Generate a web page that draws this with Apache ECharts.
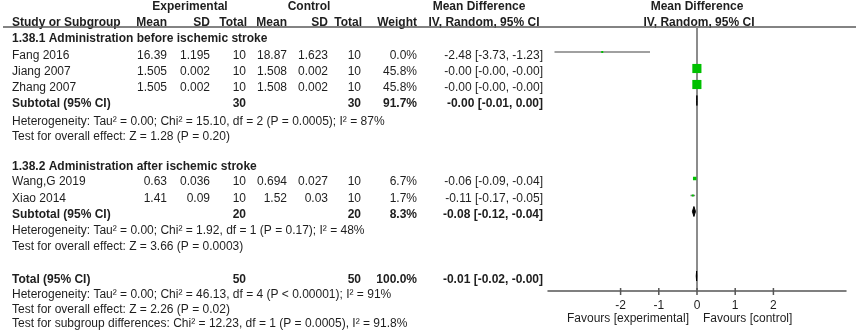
<!DOCTYPE html>
<html>
<head>
<meta charset="utf-8">
<title>Forest plot</title>
<script src="https://cdn.jsdelivr.net/npm/echarts@6/dist/echarts.min.js"></script>
<style>
  html, body { margin: 0; padding: 0; background: #fff; }
  #main { width: 858px; height: 333px; }
</style>
</head>
<body>
<div id="main"></div>
<script>
// data
var studies = ['Fang 2016', 'Jiang 2007', 'Zhang 2007', 'Wang,G 2019', 'Xiao 2014'];
var expMean = ['16.39', '1.505', '1.505', '0.63', '1.41'];
var expSD = ['1.195', '0.002', '0.002', '0.036', '0.09'];
var expN = [10, 10, 10, 10, 10];
var ctlMean = ['18.87', '1.508', '1.508', '0.694', '1.52'];
var ctlSD = ['1.623', '0.002', '0.002', '0.027', '0.03'];
var ctlN = [10, 10, 10, 10, 10];
var weight = [0.0, 45.8, 45.8, 6.7, 1.7];
var md = [-2.48, -0.003, -0.003, -0.06, -0.11];
var mdLo = [-3.73, -0.0048, -0.0048, -0.09, -0.17];
var mdHi = [-1.23, -0.0012, -0.0012, -0.04, -0.05];

var groups = ['1.38.1 Administration before ischemic stroke', '1.38.2 Administration after ischemic stroke'];
var subExpN = [30, 20];
var subCtlN = [30, 20];
var subWeight = [91.7, 8.3];
var subMd = [-0.003, -0.08];
var subLo = [-0.008, -0.12];
var subHi = [0.0015, -0.04];
var subHet = [
    'Heterogeneity: Tau\u00b2 = 0.00; Chi\u00b2 = 15.10, df = 2 (P = 0.0005); I\u00b2 = 87%',
    'Heterogeneity: Tau\u00b2 = 0.00; Chi\u00b2 = 1.92, df = 1 (P = 0.17); I\u00b2 = 48%'
];
var subTest = [
    'Test for overall effect: Z = 1.28 (P = 0.20)',
    'Test for overall effect: Z = 3.66 (P = 0.0003)'
];

var totalExpN = 50;
var totalCtlN = 50;
var totalWeight = 100.0;
var totalMd = -0.01;
var totalLo = -0.02;
var totalHi = -0.004;
var totalHet = 'Heterogeneity: Tau\u00b2 = 0.00; Chi\u00b2 = 46.13, df = 4 (P < 0.00001); I\u00b2 = 91%';
var totalTest = 'Test for overall effect: Z = 2.26 (P = 0.02)';
var subgroupTest = 'Test for subgroup differences: Chi\u00b2 = 12.23, df = 1 (P = 0.0005), I\u00b2 = 91.8%';

var tickValues = [-2, -1, 0, 1, 2];
var nullEffect = 0;
var favourLeft = 'Favours [experimental]';
var favourRight = 'Favours [control]';

// layout: text rows (pixel centres) and column anchors
var rowHdr1 = 6.5, rowHdr2 = 22.5;
var rowGroup = [38.5, 167];
var rowStudy = [55.5, 72, 88, 182, 199];
var rowSub = [104, 215];
var rowHet = [121.5, 231];
var rowTest = [137, 247];
var rowTotal = 279.5, rowTotalHet = 295, rowTotalTest = 310, rowSubDiff = 324;
var markOffset = -3.5;
var panelTop = 27, panelBottom = 291;

var colStudy = 12, colEMean = 167, colESD = 210, colEN = 246;
var colCMean = 287, colCSD = 328, colCN = 361, colW = 417, colMD = 543;

var FONT = '12px "Liberation Sans", Arial, sans-serif';
var BOLD = 'bold 12px "Liberation Sans", Arial, sans-serif';
var INK = '#1e1e1e';
var NULL_GREY = '#8c8c8c';

function f2(v) { return v.toFixed(2); }
function ci(m, lo, hi) { return f2(m) + ' [' + f2(lo) + ', ' + f2(hi) + ']'; }

function txt(s, x, y, align, bold) {
    return {
        type: 'text', x: x, y: y, silent: true,
        style: {
            text: s, fill: INK, font: bold ? BOLD : FONT,
            textAlign: align || 'left', textVerticalAlign: 'middle'
        }
    };
}

var graphics = [];
// headers
graphics.push(txt('Experimental', 190, rowHdr1, 'center', true));
graphics.push(txt('Control', 309, rowHdr1, 'center', true));
graphics.push(txt('Mean Difference', 479, rowHdr1, 'center', true));
graphics.push(txt('Mean Difference', 697, rowHdr1, 'center', true));
graphics.push(txt('Study or Subgroup', colStudy, rowHdr2, 'left', true));
graphics.push(txt('Mean', colEMean, rowHdr2, 'right', true));
graphics.push(txt('SD', colESD, rowHdr2, 'right', true));
graphics.push(txt('Total', colEN + 1, rowHdr2, 'right', true));
graphics.push(txt('Mean', colCMean, rowHdr2, 'right', true));
graphics.push(txt('SD', colCSD, rowHdr2, 'right', true));
graphics.push(txt('Total', colCN + 1, rowHdr2, 'right', true));
graphics.push(txt('Weight', colW, rowHdr2, 'right', true));
graphics.push(txt('IV, Random, 95% CI', 484, rowHdr2, 'center', true));
graphics.push(txt('IV, Random, 95% CI', 699, rowHdr2, 'center', true));
graphics.push({
    type: 'line', silent: true,
    shape: {x1: 3, y1: 27, x2: 856, y2: 27},
    style: {stroke: '#5a5a5a', lineWidth: 1.5}
});

// groups and subtotals
for (var g = 0; g < groups.length; g++) {
    graphics.push(txt(groups[g], colStudy, rowGroup[g], 'left', true));
    graphics.push(txt('Subtotal (95% CI)', colStudy, rowSub[g], 'left', true));
    graphics.push(txt(String(subExpN[g]), colEN, rowSub[g], 'right', true));
    graphics.push(txt(String(subCtlN[g]), colCN, rowSub[g], 'right', true));
    graphics.push(txt(subWeight[g].toFixed(1) + '%', colW, rowSub[g], 'right', true));
    graphics.push(txt(ci(subMd[g], subLo[g], subHi[g]), colMD, rowSub[g], 'right', true));
    graphics.push(txt(subHet[g], colStudy, rowHet[g], 'left', false));
    graphics.push(txt(subTest[g], colStudy, rowTest[g], 'left', false));
}

// studies
for (var i = 0; i < studies.length; i++) {
    var y = rowStudy[i];
    graphics.push(txt(studies[i], colStudy, y, 'left', false));
    graphics.push(txt(expMean[i], colEMean, y, 'right', false));
    graphics.push(txt(expSD[i], colESD, y, 'right', false));
    graphics.push(txt(String(expN[i]), colEN, y, 'right', false));
    graphics.push(txt(ctlMean[i], colCMean, y, 'right', false));
    graphics.push(txt(ctlSD[i], colCSD, y, 'right', false));
    graphics.push(txt(String(ctlN[i]), colCN, y, 'right', false));
    graphics.push(txt(weight[i].toFixed(1) + '%', colW, y, 'right', false));
    graphics.push(txt(ci(md[i], mdLo[i], mdHi[i]), colMD, y, 'right', false));
}

// total
graphics.push(txt('Total (95% CI)', colStudy, rowTotal, 'left', true));
graphics.push(txt(String(totalExpN), colEN, rowTotal, 'right', true));
graphics.push(txt(String(totalCtlN), colCN, rowTotal, 'right', true));
graphics.push(txt(totalWeight.toFixed(1) + '%', colW, rowTotal, 'right', true));
graphics.push(txt(ci(totalMd, totalLo, totalHi), colMD, rowTotal, 'right', true));
graphics.push(txt(totalHet, colStudy, rowTotalHet, 'left', false));
graphics.push(txt(totalTest, colStudy, rowTotalTest, 'left', false));
graphics.push(txt(subgroupTest, colStudy, rowSubDiff, 'left', false));
graphics.push(txt(favourLeft, 689, 319, 'right', false));
graphics.push(txt(favourRight, 703, 319, 'left', false));

// series data
var studyData = studies.map(function (s, i) {
    return [md[i], rowStudy[i] + markOffset, mdLo[i], mdHi[i], weight[i]];
});
var diamondData = [];
for (var k = 0; k < groups.length; k++) {
    diamondData.push([subMd[k], rowSub[k] + markOffset, subLo[k], subHi[k]]);
}
diamondData.push([totalMd, rowTotal + markOffset, totalLo, totalHi]);

var myChart = echarts.init(document.getElementById('main'));
var option = {
    animation: false,
    grid: {left: 548, right: 12, top: panelTop, bottom: 333 - panelBottom},
    xAxis: {
        type: 'value', min: -3.9, max: 3.9,
        axisLine: {onZero: false, lineStyle: {color: '#555', width: 1.5}},
        axisTick: {show: false},
        axisLabel: {customValues: tickValues, color: INK, fontSize: 12,
            fontFamily: '"Liberation Sans", Arial, sans-serif', margin: 9},
        splitLine: {show: false}
    },
    yAxis: {type: 'value', min: panelTop, max: panelBottom, inverse: true, show: false},
    graphic: graphics,
    series: [{
        // line of no effect, drawn as a thin filled bar
        type: 'custom',
        z: 2,
        data: [[nullEffect, panelTop, panelBottom]],
        renderItem: function (params, api) {
            var a = api.coord([api.value(0), api.value(1)]);
            var b = api.coord([api.value(0), api.value(2)]);
            return {
                type: 'rect',
                shape: {x: a[0] - 1, y: a[1], width: 2, height: b[1] - a[1]},
                style: {fill: NULL_GREY}
            };
        }
    }, {
        // ticks crossing the axis line
        type: 'custom',
        z: 3,
        data: tickValues.map(function (v) { return [v, panelBottom]; }),
        renderItem: function (params, api) {
            var p = api.coord([api.value(0), api.value(1)]);
            return {
                type: 'line',
                shape: {x1: p[0], y1: p[1] - 3, x2: p[0], y2: p[1] + 4},
                style: {stroke: '#555', lineWidth: 1.5}
            };
        }
    }, {
        type: 'custom',
        z: 3,
        data: diamondData,
        renderItem: function (params, api) {
            var c = api.coord([api.value(0), api.value(1)]);
            var l = api.coord([api.value(2), api.value(1)]);
            var r = api.coord([api.value(3), api.value(1)]);
            return {
                type: 'polygon',
                shape: {points: [[l[0], c[1]], [c[0], c[1] - 5], [r[0], c[1]], [c[0], c[1] + 5]]},
                style: {fill: '#000', stroke: '#000', lineWidth: 1}
            };
        }
    }, {
        type: 'custom',
        z: 4,
        data: studyData,
        renderItem: function (params, api) {
            var c = api.coord([api.value(0), api.value(1)]);
            var l = api.coord([api.value(2), api.value(1)]);
            var r = api.coord([api.value(3), api.value(1)]);
            var s = Math.max(2, 1.35 * Math.sqrt(api.value(4)));
            return {
                type: 'group',
                children: [{
                    type: 'line',
                    shape: {x1: l[0], y1: c[1], x2: r[0], y2: c[1]},
                    style: {stroke: '#808080', lineWidth: 1.5}
                }, {
                    type: 'rect',
                    shape: {x: c[0] - s / 2, y: c[1] - s / 2, width: s, height: s},
                    style: {fill: '#00c000'}
                }]
            };
        }
    }]
};
myChart.setOption(option);

// fallback: the same null line straight on the zrender layer, placed through the axis scale
var x0 = myChart.convertToPixel({xAxisIndex: 0}, nullEffect);
var yTop = myChart.convertToPixel({yAxisIndex: 0}, panelTop);
var yBot = myChart.convertToPixel({yAxisIndex: 0}, panelBottom);
myChart.getZr().add(new echarts.graphic.Rect({
    shape: {x: x0 - 1, y: yTop, width: 2, height: yBot - yTop},
    style: {fill: NULL_GREY},
    z: 2.5,
    silent: true
}));
</script>
</body>
</html>
